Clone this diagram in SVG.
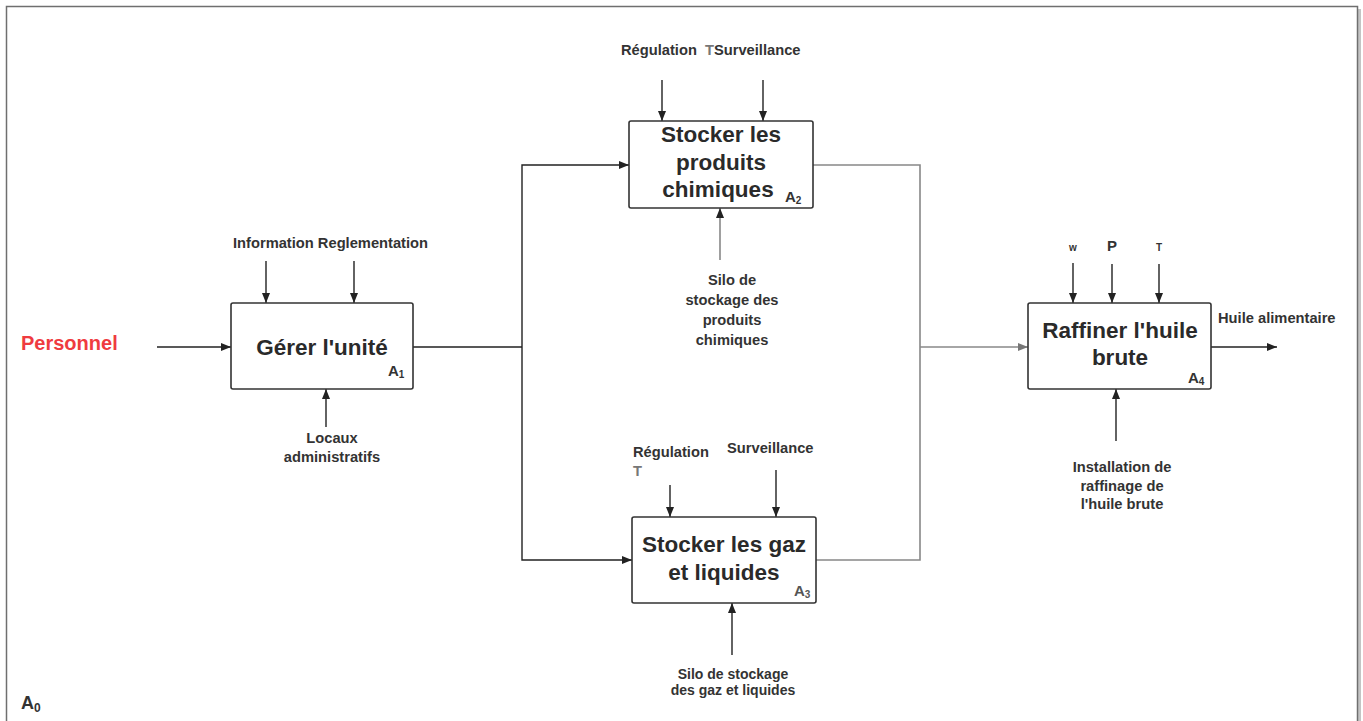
<svg xmlns="http://www.w3.org/2000/svg" width="1363" height="721" viewBox="0 0 1363 721">
  <style>
    .frame { fill: #ffffff; stroke: #6f6f6f; stroke-width: 1.5; }
    .shadow { fill: none; stroke: #c4c4c4; stroke-width: 3; }
    .box { fill: #ffffff; stroke: #333333; stroke-width: 1.6; }
    .title { font-family: "Liberation Sans", Arial, sans-serif; font-weight: bold; font-size: 22.5px; fill: #2a2a2a; text-anchor: middle; }
    .lbl { font-family: "Liberation Sans", Arial, sans-serif; font-weight: bold; font-size: 14.7px; fill: #333333; }
    .mid { text-anchor: middle; }
    .tag { font-family: "Liberation Sans", Arial, sans-serif; font-weight: bold; font-size: 15px; fill: #333333; }
    .sub { font-size: 10px; }
    .pale { fill: #777777; }
    .wire { fill: none; stroke: #222222; stroke-width: 1.4; }
    .wire-g { fill: none; stroke: #888888; stroke-width: 1.6; }
  </style>
  <defs>
    <marker id="ah" viewBox="0 0 10 8" refX="10" refY="4" markerWidth="10" markerHeight="8" markerUnits="userSpaceOnUse" orient="auto">
      <path d="M0,0 L10,4 L0,8 Z" fill="#222222"/>
    </marker>
    <marker id="ahg" viewBox="0 0 10 8" refX="10" refY="4" markerWidth="10" markerHeight="8" markerUnits="userSpaceOnUse" orient="auto">
      <path d="M0,0 L10,4 L0,8 Z" fill="#777777"/>
    </marker>
  </defs>

  <!-- page frame -->
  <rect x="0" y="0" width="1363" height="721" fill="#ffffff"/>
  <line class="shadow" x1="1359.5" y1="9" x2="1359.5" y2="721"/>
  <rect class="frame" x="6.5" y="6.5" width="1351" height="730"/>
  <text class="tag" x="21" y="709" style="font-size:18px">A<tspan class="sub" dy="3" style="font-size:12px">0</tspan></text>

  <!-- connectors -->
  <g id="connectors">
    <!-- inputs / outputs -->
    <line class="wire" x1="157" y1="347" x2="231" y2="347" marker-end="url(#ah)"/>
    <path class="wire" d="M413,347 H522 M522,347 V165 H629" marker-end="url(#ah)"/>
    <path class="wire" d="M522,347 V560 H632" marker-end="url(#ah)"/>
    <path class="wire-g" d="M813,165 H920 V560 H816"/>
    <line class="wire-g" x1="920" y1="347" x2="1028" y2="347" marker-end="url(#ahg)"/>
    <line class="wire" x1="1211" y1="347" x2="1277" y2="347" marker-end="url(#ah)"/>

    <!-- controls -->
    <line class="wire" x1="266" y1="261" x2="266" y2="303" marker-end="url(#ah)"/>
    <line class="wire" x1="354" y1="261" x2="354" y2="303" marker-end="url(#ah)"/>
    <line class="wire" x1="662" y1="80" x2="662" y2="121" marker-end="url(#ah)"/>
    <line class="wire" x1="763" y1="80" x2="763" y2="121" marker-end="url(#ah)"/>
    <line class="wire" x1="670" y1="485" x2="670" y2="517" marker-end="url(#ah)"/>
    <line class="wire" x1="776" y1="470" x2="776" y2="517" marker-end="url(#ah)"/>
    <line class="wire" x1="1073" y1="263" x2="1073" y2="303" marker-end="url(#ah)"/>
    <line class="wire" x1="1112" y1="264" x2="1112" y2="303" marker-end="url(#ah)"/>
    <line class="wire" x1="1159" y1="264" x2="1159" y2="303" marker-end="url(#ah)"/>

    <!-- mechanisms -->
    <line class="wire" x1="326" y1="427" x2="326" y2="389" marker-end="url(#ah)"/>
    <line class="wire-g" x1="720" y1="260" x2="720" y2="208" marker-end="url(#ah)"/>
    <line class="wire" x1="732" y1="655" x2="732" y2="603" marker-end="url(#ah)"/>
    <line class="wire" x1="1116" y1="441" x2="1116" y2="389" marker-end="url(#ah)"/>
  </g>

  <!-- free labels -->
  <text id="personnel" x="21" y="350" style="font-family:'Liberation Sans',Arial,sans-serif;font-weight:bold;font-size:20px;fill:#ef3b3f">Personnel</text>

  <!-- A1 -->
  <g id="a1">
    <rect class="box" x="231" y="303" width="182" height="86" rx="2"/>
    <text class="title" x="322" y="355">Gérer l'unité</text>
    <text class="tag" x="388" y="376">A<tspan class="sub" dy="2">1</tspan></text>
    <text class="lbl" x="233" y="248">Information Reglementation</text>
    <text class="lbl mid" x="332" y="443">Locaux</text>
    <text class="lbl mid" x="332" y="462">administratifs</text>
  </g>

  <!-- A2 -->
  <g id="a2">
    <rect class="box" x="629" y="121" width="184" height="87" rx="2"/>
    <text class="title" x="721" y="142">Stocker les</text>
    <text class="title" x="721" y="170">produits</text>
    <text class="title" x="718" y="197">chimiques</text>
    <text class="tag" x="785" y="202">A<tspan class="sub" dy="2">2</tspan></text>
    <text class="lbl" x="621" y="55">Régulation <tspan class="pale" dx="4">T</tspan>Surveillance</text>
    <text class="lbl mid" x="732" y="285">Silo de</text>
    <text class="lbl mid" x="732" y="305">stockage des</text>
    <text class="lbl mid" x="732" y="325">produits</text>
    <text class="lbl mid" x="732" y="345">chimiques</text>
  </g>

  <!-- A3 -->
  <g id="a3">
    <rect class="box" x="632" y="517" width="184" height="86" rx="2"/>
    <text class="title" x="724" y="552">Stocker les gaz</text>
    <text class="title" x="724" y="580">et liquides</text>
    <text class="tag" x="794" y="596" style="fill:#555">A<tspan class="sub" dy="2">3</tspan></text>
    <text class="lbl" x="633" y="457">Régulation</text>
    <text class="lbl pale" x="633" y="476">T</text>
    <text class="lbl" x="727" y="453">Surveillance</text>
    <text class="lbl mid" x="733" y="679" style="font-size:14px">Silo de stockage</text>
    <text class="lbl mid" x="733" y="695" style="font-size:14px">des gaz et liquides</text>
  </g>

  <!-- A4 -->
  <g id="a4">
    <rect class="box" x="1028" y="303" width="183" height="86" rx="2"/>
    <text class="title" x="1120" y="338">Raffiner l'huile</text>
    <text class="title" x="1120" y="365">brute</text>
    <text class="tag" x="1188" y="383">A<tspan class="sub" dy="2">4</tspan></text>
    <text class="lbl mid" x="1073" y="251" style="font-size:10px">w</text>
    <text class="lbl mid" x="1112" y="251" style="font-size:15px">P</text>
    <text class="lbl mid" x="1159" y="251" style="font-size:10px">T</text>
    <text class="lbl" x="1218" y="323">Huile alimentaire</text>
    <text class="lbl mid" x="1122" y="472">Installation de</text>
    <text class="lbl mid" x="1122" y="491">raffinage de</text>
    <text class="lbl mid" x="1122" y="509">l'huile brute</text>
  </g>
</svg>
